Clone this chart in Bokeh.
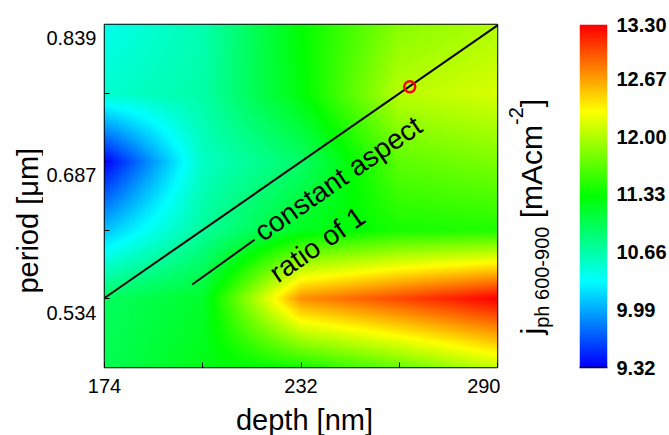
import numpy as np
from math import pi, sin, cos
from bokeh.plotting import figure
from bokeh.models import Range1d, FixedTicker, LinearColorMapper, PrintfTickFormatter
from bokeh.layouts import row, column
from bokeh.embed import file_html
from bokeh.resources import INLINE
from bokeh.core.properties import value

# ---------------- data ----------------
depth_nm = [174, 203, 232, 261, 290]
period_um = [0.474, 0.550, 0.626, 0.702, 0.778, 0.854]          # bottom -> top
# photocurrent j_ph 600-900 [mA/cm^2] at the grid nodes (rows = period_um, cols = depth_nm)
j_ph = [
    [10.99, 11.23, 11.39, 11.71, 12.07],
    [10.95, 11.15, 12.74, 13.02, 13.30],
    [10.08, 10.71, 11.19, 11.39, 11.43],
    [9.32, 10.55, 10.91, 11.67, 11.79],
    [10.51, 10.67, 11.27, 12.03, 12.15],
    [10.39, 10.63, 11.31, 11.83, 11.99],
]
x_ticks = [174, 232, 290]
x_minor_ticks = [203, 261]
y_ticks = [0.534, 0.687, 0.839]
y_minor_ticks = [0.550, 0.626, 0.702, 0.778]
cbar_ticks = [9.32, 9.99, 10.66, 11.33, 12.00, 12.67, 13.30]

aspect_line_depth = [174, 290]
aspect_line_period = [0.551, 0.853]
legend_seg_depth = [199.9, 218.3]
legend_seg_period = [0.566, 0.6155]
marker_depth = [264.1]
marker_period = [0.785]

FONT = "Liberation Sans"

# ---------------- geometry (pixels, page coordinates) ----------------
TOTAL_W, TOTAL_H = 669, 435
ROW_H = 402
X_PL, X_P, X_PT, X_P2 = 0, 43, 500, 560           # left edges of the row's figures
FL, FR, FT, FB = 104, 497, 24, 367                 # main frame (all row frames share FT..FB)
BASE_SHIFT = 0.3                                    # renderer puts baselines ~0.3em low

def to_x(px):
    return depth_nm[0] + (px - FL) * (depth_nm[-1] - depth_nm[0]) / (FR - FL)

def to_y(py):
    return period_um[0] + (FB - py) * (period_um[-1] - period_um[0]) / (FB - FT)

def blank_fig(w, h, top, bottom):
    # frame covers page rows top..bottom, data y == page y
    f = figure(width=w, height=h, x_range=Range1d(0, w), y_range=Range1d(bottom, top),
               x_axis_location=None, y_axis_location=None, title=None,
               output_backend="svg", toolbar_location=None,
               min_border_left=0, min_border_right=0,
               min_border_top=top - (TOTAL_H - h if h < ROW_H else 0) if False else 0,
               min_border_bottom=0)
    f.grid.visible = False
    f.outline_line_color = None
    return f

def row_blank(w):
    f = figure(width=w, height=ROW_H, x_range=Range1d(0, w), y_range=Range1d(FB, FT),
               x_axis_location=None, y_axis_location=None, title=None,
               output_backend="svg", toolbar_location=None,
               min_border_left=0, min_border_right=0,
               min_border_top=FT, min_border_bottom=ROW_H - FB)
    f.grid.visible = False
    f.outline_line_color = None
    return f

def label_text(f, px, py, txt, size_px, conv, angle=0.0):
    # (px, py): centre of the text's baseline in page pixels; conv maps page px -> figure coords
    d = BASE_SHIFT * size_px
    px2 = px - d * sin(angle)
    py2 = py - d * cos(angle)
    x, y = conv(px2, py2)
    f.text(x=[x], y=[y], text=[txt], angle=angle,
           text_font=value(FONT), text_font_size="%dpx" % size_px, text_color="black",
           text_align="center", text_baseline="alphabetic", text_line_height=1.0)

# ---------------- colormap (blue-cyan-green-yellow-red) ----------------
def ramp_colour(t):
    stops = [(0, 0, 255), (0, 255, 255), (0, 255, 0), (255, 255, 0), (255, 0, 0)]
    s = t * 4
    i = min(int(s), 3)
    f = s - i
    a, b = stops[i], stops[i + 1]
    return "#%02x%02x%02x" % tuple(int(round(a[k] + (b[k] - a[k]) * f)) for k in range(3))

palette = [ramp_colour(i / 255) for i in range(256)]
J = np.array(j_ph)
mapper = LinearColorMapper(palette=palette, low=float(J.min()), high=float(J.max()))

# interpolated shading of the node grid (like MATLAB 'shading interp')
nx, ny = FR - FL, FB - FT
xs = np.linspace(depth_nm[0], depth_nm[-1], nx)
ys = np.linspace(period_um[0], period_um[-1], ny)
tmp = np.array([np.interp(xs, depth_nm, r) for r in J])
field = np.array([np.interp(ys, period_um, tmp[:, i]) for i in range(nx)]).T

# ---------------- main figure ----------------
W_P = X_PT - X_P
p = figure(width=W_P, height=ROW_H,
           x_range=Range1d(depth_nm[0], depth_nm[-1]),
           y_range=Range1d(period_um[0], period_um[-1]),
           output_backend="svg", toolbar_location=None,
           min_border_left=FL - X_P, min_border_right=X_PT - FR,
           min_border_top=FT, min_border_bottom=ROW_H - FB)
p.grid.visible = False
p.outline_line_color = "black"
p.outline_line_width = 1.5

p.image(image=[field], x=depth_nm[0], y=period_um[0],
        dw=depth_nm[-1] - depth_nm[0], dh=period_um[-1] - period_um[0],
        color_mapper=mapper)

p.line(aspect_line_depth, aspect_line_period, line_color="black", line_width=2)
p.line(legend_seg_depth, legend_seg_period, line_color="black", line_width=2)
p.scatter(marker_depth, marker_period, marker="circle", size=11,
          fill_color=None, line_color="red", line_width=2.5)

main_conv = lambda a, b: (to_x(a), to_y(b))
ang = 0.607
label_text(p, 342.5, 185.0, "constant aspect", 28, main_conv, angle=ang)
label_text(p, 321.7, 250.9, "ratio of 1", 28, main_conv, angle=ang)

xa = p.xaxis[0]
xa.ticker = FixedTicker(ticks=x_ticks, minor_ticks=x_minor_ticks)
xa.formatter = PrintfTickFormatter(format="%d")
ya = p.yaxis[0]
ya.ticker = FixedTicker(ticks=y_ticks, minor_ticks=y_minor_ticks)
ya.formatter = PrintfTickFormatter(format="%.3f")
for ax in (xa, ya):
    ax.axis_line_color = None
    ax.major_label_text_font = FONT
    ax.major_label_text_font_size = "20px"
    ax.major_label_text_color = "black"
    ax.minor_tick_in = 5
    ax.minor_tick_out = 0
    ax.minor_tick_line_color = "black"
    ax.minor_tick_line_width = 1
xa.major_tick_in = 5
xa.major_tick_out = 0
xa.major_tick_line_color = "black"
xa.major_label_standoff = 11
ya.major_tick_in = 0
ya.major_tick_out = 0
ya.major_tick_line_color = None
ya.major_label_standoff = 8

# ---------------- y-axis title figure ----------------
pl = row_blank(X_P - X_PL)
pl_conv = lambda a, b: (a - X_PL, b)
label_text(pl, 36, 220.2, "period [\u03bcm]", 29, pl_conv, angle=pi / 2)

# ---------------- colour-bar title figure: j_{ph 600-900} [mAcm^{-2}] ----------------
pt = row_blank(X_P2 - X_PT)
pt_conv = lambda a, b: (a - X_PT, b)
cb_text = ["j", "ph 600-900", "[mAcm", "-2", "]"]
cb_size = [30, 20, 30, 20, 30]
cb_base = [540, 547, 540, 521, 540]
cb_centre = [330.7, 276.7, 171.1, 115.6, 102.5]
for txt, fs, bx, cy in zip(cb_text, cb_size, cb_base, cb_centre):
    label_text(pt, bx, cy, txt, fs, pt_conv, angle=pi / 2)

# ---------------- colour bar figure ----------------
W2 = TOTAL_W - X_P2
CBL, CBR = 579 - X_P2, 607 - X_P2
cbar_low, cbar_high = cbar_ticks[0], cbar_ticks[-1]
p2 = figure(width=W2, height=ROW_H, x_range=Range1d(0, 1), y_range=Range1d(cbar_low, cbar_high),
            y_axis_location="right", output_backend="svg", toolbar_location=None,
            min_border_left=CBL, min_border_right=W2 - CBR,
            min_border_top=FT, min_border_bottom=ROW_H - FB)
p2.grid.visible = False
p2.outline_line_color = None
ramp = np.linspace(cbar_low, cbar_high, FB - FT).reshape(-1, 1)
p2.image(image=[ramp], x=0, y=cbar_low, dw=1, dh=cbar_high - cbar_low, color_mapper=mapper)

ca = p2.yaxis[0]
ca.ticker = FixedTicker(ticks=cbar_ticks)
ca.formatter = PrintfTickFormatter(format="%.2f")
ca.axis_line_color = None
ca.major_tick_line_color = None
ca.minor_tick_line_color = None
ca.major_tick_in = 0
ca.major_tick_out = 0
ca.major_label_standoff = 9
ca.major_label_text_font = FONT
ca.major_label_text_font_size = "20px"
ca.major_label_text_font_style = "bold"
ca.major_label_text_color = "black"

cx = p2.xaxis[0]
cx.ticker = FixedTicker(ticks=[])
cx.axis_line_color = "black"
cx.axis_line_width = 1.5
cx.major_tick_line_color = None
cx.minor_tick_line_color = None

# ---------------- x-axis title figure ----------------
PB_H = TOTAL_H - ROW_H
pb = figure(width=TOTAL_W, height=PB_H, x_range=Range1d(0, TOTAL_W), y_range=Range1d(TOTAL_H, ROW_H),
            x_axis_location=None, y_axis_location=None, title=None,
            output_backend="svg", toolbar_location=None, min_border=0)
pb.grid.visible = False
pb.outline_line_color = None
label_text(pb, 304, 428.5, "depth [nm]", 29, lambda a, b: (a, b))

layout = column(row(pl, p, pt, p2), pb)
open("out.html", "w").write(file_html(layout, INLINE))
